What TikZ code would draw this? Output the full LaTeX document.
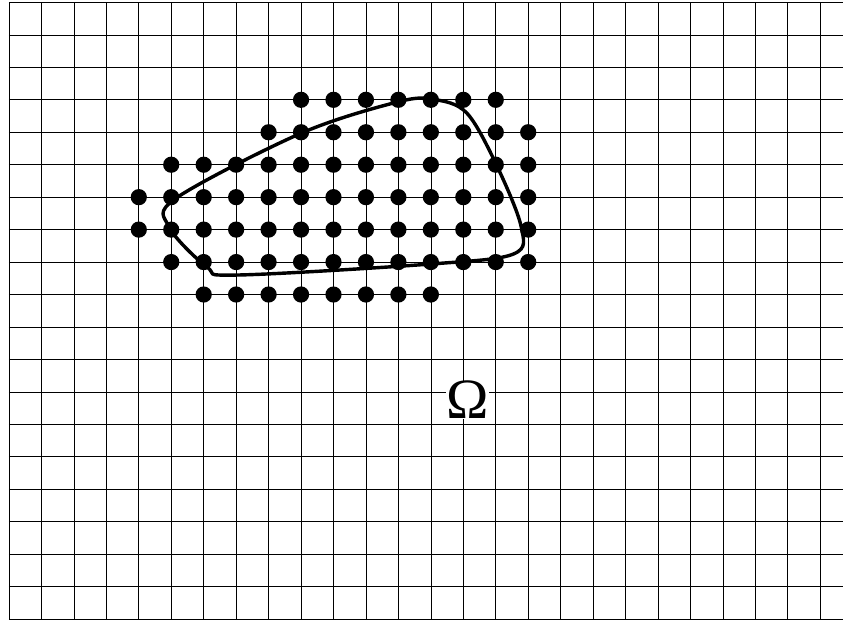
\documentclass[tikz,border=0pt]{standalone}
\usepackage{fontspec}
\newfontfamily\omegafont{Liberation Serif}
\begin{document}
\begin{tikzpicture}[
  gridline/.style={line width=0.6pt, black},
  dotmark/.style={circle, fill=black, inner sep=0pt, minimum size=0.5cm},
  boundary/.style={line width=3pt, black, line join=round},
  label/.style={fill=white, inner sep=0.5pt, font=\omegafont\fontsize{50}{50}\selectfont}
]
\useasboundingbox (-0.277,-0.062) rectangle (25.701,19.076);
\begin{scope}
\clip (-0.277,-0.062) rectangle (25.701,19.076);
\foreach \x in {0,...,25} \draw[gridline] (\x,0) -- (\x,19);
\foreach \y in {0,...,19} \draw[gridline] (0,\y) -- (26,\y);
\end{scope}
% dots
\foreach \x in {9,...,15} \node[dotmark] (d16-\x) at (\x,16) {};
\foreach \x in {8,...,16} \node[dotmark] (d15-\x) at (\x,15) {};
\foreach \x in {5,...,16} \node[dotmark] (d14-\x) at (\x,14) {};
\foreach \x in {4,...,16} \node[dotmark] (d13-\x) at (\x,13) {};
\foreach \x in {4,...,16} \node[dotmark] (d12-\x) at (\x,12) {};
\foreach \x in {5,...,16} \node[dotmark] (d11-\x) at (\x,11) {};
\foreach \x in {6,...,13} \node[dotmark] (d10-\x) at (\x,10) {};
% boundary curve
\draw[boundary] plot[smooth cycle, tension=0.55] coordinates {
  (5.15,12.97) (9,14.97) (12,15.94) (13.1,16.01) (14.1,15.6) (15,14.04)
  (15.78,12.1) (15.55,11.25) (13,10.94) (7,10.6) (6.1,10.85)
  (4.92,12.1)};
\node[label] (omega) at (14.13,6.75) {Ω};
\end{tikzpicture}
\end{document}
